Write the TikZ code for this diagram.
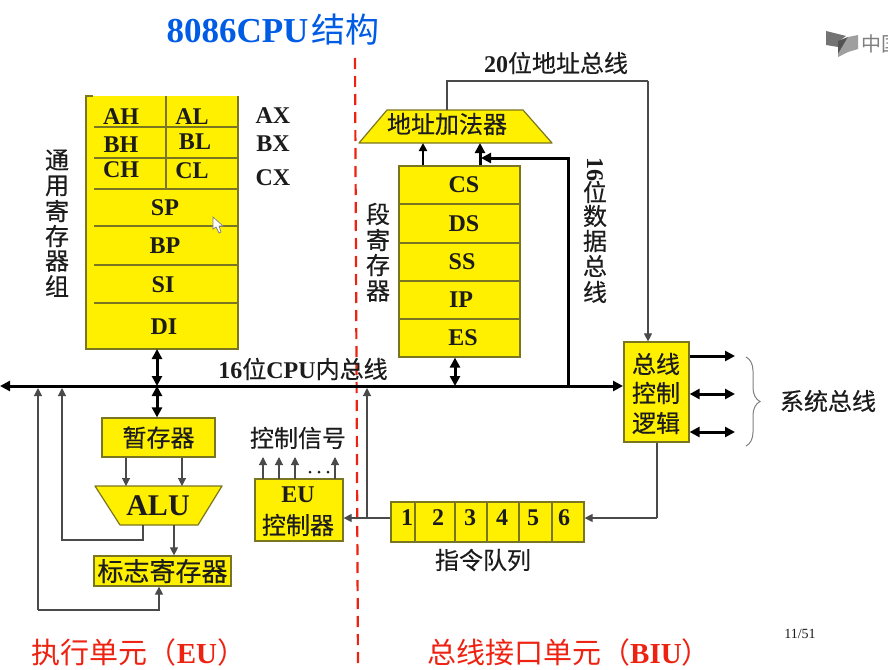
\documentclass[tikz,border=0pt]{standalone}
\usepackage{fontspec}
\setmainfont{Liberation Serif}
\newfontfamily\cjk[FakeBold=0.35]{Noto Sans CJK SC}
\newfontfamily\cjkplain{Noto Sans CJK SC}
\usetikzlibrary{arrows.meta,decorations.pathreplacing}
\newcommand\hz[1]{{\cjk #1}}
\newcommand\fsz[1]{\fontsize{#1}{#1}\selectfont}
\definecolor{ylw}{HTML}{FFF000}
\definecolor{olv}{HTML}{7A7520}
\definecolor{thin}{HTML}{4A4A4A}
\definecolor{inkk}{HTML}{1C1C1C}
\definecolor{redt}{HTML}{EE2211}
\tikzset{
  box/.style={draw=olv,line width=1.2pt,fill=ylw,inner sep=0pt,text=inkk,align=center},
  trap/.style={draw=olv,line width=1.2pt,fill=ylw,line join=round},
  cell/.style={inner sep=0pt,text=inkk,font=\fsz{24}\bfseries},
  lbl/.style={inner sep=0pt,text=inkk,font=\fsz{24},align=center},
  redlbl/.style={inner sep=0pt,text=redt,font=\fsz{29}},
  sep/.style={draw=olv,line width=1.1pt},
  thinline/.style={draw=thin,line width=1.1pt},
  thinarr/.style={thinline,-{Triangle[length=8pt,width=8pt]}},
  bus/.style={draw=black,line width=3pt},
  busarr/.style={bus,-{Triangle[length=10pt,width=10pt]}},
  busdbl/.style={bus,{Triangle[length=10pt,width=10pt]}-{Triangle[length=10pt,width=10pt]}},
}
\begin{document}
\begin{tikzpicture}[x=1pt,y=-1pt]
\useasboundingbox (0,0) rectangle (888,669);
\fill[white] (0,0) rectangle (888,669);
% title
\node[inner sep=0pt,text=blue!60!cyan!90!black,font=\fsz{35}\bfseries] (title) at (273,30) {8086CPU\hspace{3pt}{\cjkplain\fsz{34}\mdseries 结构}};
% logo
\fill[gray!90!black] (826,31) -- (846,36) -- (838,42) -- (838,47) -- (826,45) -- cycle;
\fill[gray!65!black] (838,41) -- (848,37) -- (848,50) -- (838,54) -- cycle;
\fill[gray!75] (848,37) -- (858,35) -- (858,49) -- (848,52) -- (838,57) -- (838,54) -- cycle;
\begin{scope}
\clip (860,25) rectangle (888,60);
\node[inner sep=0pt,text=gray,font=\fsz{20},anchor=west] (logo) at (861,44) {{\cjkplain 中国}};
\end{scope}
% red divider
\coordinate (divT) at (355,58);
\coordinate (divB) at (358,669);
\draw[redt,line width=2.2pt,dash pattern=on 11pt off 7pt] (divT) -- (divB);

% general registers
\fill[ylw] (86,96) rectangle (238,349);
\draw[olv,line width=1.2pt] (93,96) -- (86,96) -- (86,349) -- (238,349) -- (238,96);
\foreach \yy in {127,158,189,226,265,303} \draw[sep] (94,\yy) -- (238,\yy);
\draw[sep] (166,96) -- (166,189);
\coordinate (regS) at (157,349);
\node[cell] (ah) at (121,117) {AH};
\node[cell] (al) at (192,117) {AL};
\node[cell] (bh) at (121,145) {BH};
\node[cell] (bl) at (195,142) {BL};
\node[cell] (ch) at (121,170) {CH};
\node[cell] (cl) at (192,171) {CL};
\node[cell] (sp) at (165,208) {SP};
\node[cell] (bp) at (165,246) {BP};
\node[cell] (si) at (163,285) {SI};
\node[cell] (di) at (164,327) {DI};
\node[cell] (ax) at (273,116) {AX};
\node[cell] (bx) at (273,144) {BX};
\node[cell] (cx) at (273,178) {CX};
\foreach \c/\yy in {通/160,用/186,寄/211,存/236,器/261,组/286}
  \node[lbl] at (57,\yy) {\hz{\c}};
% mouse cursor
\draw[gray,fill=white,line width=.7pt] (213,217) -- (213,229) -- (216,227) -- (219,233) -- (221,232) -- (219,226) -- (223,226) -- cycle;

% segment registers
\node[box,minimum width=121pt,minimum height=191pt] (seg) at (459.5,261.5) {};
\foreach \yy in {204,243,281,319} \draw[sep] (399,\yy) -- (520,\yy);
\node[cell] (cs) at (464,185) {CS};
\node[cell] (ds) at (464,224) {DS};
\node[cell] (ss) at (462,262) {SS};
\node[cell] (ip) at (461,300) {IP};
\node[cell] (es) at (463,338) {ES};
\foreach \c/\yy in {段/214,寄/240,存/265,器/291}
  \node[lbl] at (378,\yy) {\hz{\c}};

% address adder
\filldraw[trap] (359,143) -- (387,110) -- (523,110) -- (552,143) -- cycle;
\node[lbl] (addT) at (447,124) {\hz{地址加法器}};
\coordinate (addA) at (447,110);
\coordinate (addB) at (423,143);
\coordinate (addC) at (480,143);
\node[lbl] (l20) at (556,63) {\textbf{20}\hz{位地址总线}};

% bus control
\node[box,minimum width=65pt,minimum height=100pt] (bc) at (656.5,392) {};
\node[lbl] (bc1) at (656,364) {\hz{总线}};
\node[lbl] (bc2) at (656,393) {\hz{控制}};
\node[lbl] (bc3) at (656,423) {\hz{逻辑}};
% internal bus
\coordinate (busL) at (0,386);
\coordinate (busM) at (300,386);
\coordinate (busR) at (623,386);
\draw[busarr] (busM) -- (busL);
\draw[busarr] (busM) -- (busR);
\node[lbl] (lbus) at (303,369) {\textbf{16}\hz{位}\textbf{CPU}\hz{内总线}};

% temp reg and ALU
\node[box,minimum width=113pt,minimum height=39pt,font=\fsz{24}] (tmp) at (158.5,437.5) {\hz{暂存器}};
\filldraw[trap] (95,486) -- (222,486) -- (198,525) -- (120,525) -- cycle;
\node[inner sep=0pt,text=inkk,font=\fsz{30}\bfseries] (aluT) at (158,506) {ALU};
\coordinate (aluA) at (126,486);
\coordinate (aluB) at (182,486);
\coordinate (aluC) at (143,525);
\coordinate (aluD) at (174,525);
\node[box,minimum width=137pt,minimum height=30pt,font=\fsz{26}] (flag) at (162.5,571) {\hz{标志寄存器}};

% EU controller
\node[box,minimum width=88pt,minimum height=62pt] (eu) at (299,510) {};
\node[cell] (euA) at (298,495) {EU};
\node[lbl] (euB) at (298,525) {\hz{控制器}};
\node[lbl] (ctl) at (298,438) {\hz{控制信号}};
\foreach \xx in {263,279,295,335}
  \draw[thinarr] (\xx,479) -- (\xx,457);
\foreach \xx in {310,319,328}
  \fill[inkk] (\xx,472) circle (1.5pt);

% queue
\node[box,minimum width=193pt,minimum height=40pt] (que) at (487.5,522) {};
\foreach \xx in {415,455,487,519,552} \draw[sep] (\xx,502) -- (\xx,542);
\foreach \n/\xx in {1/407,2/438,3/470,4/502,5/533,6/564}
  \node[cell] (q\n) at (\xx,518) {\n};
\node[lbl] (lq) at (483,560) {\hz{指令队列}};

% system bus
\node[lbl] (sysb) at (828,401) {\hz{系统总线}};
\coordinate (brT) at (746,357);
\coordinate (brB) at (746,446);
\draw[gray,line width=1pt,decorate,decoration={brace,amplitude=14pt}] (brT) -- (brB);
\coordinate (sysA) at (735,356);
\coordinate (sysB) at (735,394);
\coordinate (sysC) at (735,432);
\draw[busarr] (bc.east |- sysA) -- (sysA);
\draw[busdbl] (bc.east |- sysB) -- (sysB);
\draw[busdbl] (bc.east |- sysC) -- (sysC);

% vertical data bus label
\node[inner sep=0pt,text=inkk,font=\fsz{24}\bfseries,rotate=-90] (l16) at (595,169) {16};
\foreach \c/\yy in {位/192,数/216,据/241,总/266,线/292}
  \node[lbl] at (595,\yy) {\hz{\c}};

% connectors: address
\coordinate (a1) at (447,81);
\coordinate (a2) at (648,81);
\draw[thinline] (addA) -- (a1) -- (a2);
\draw[thinarr] (a2) -- (a2 |- bc.north);
% connectors: segment <-> adder
\draw[line width=2pt,-{Triangle[length=8pt,width=8pt]}] (addB |- seg.north) -- (addB);
\draw[bus,-{Triangle[length=10pt,width=10pt]}] (addC |- seg.north) -- (addC);
\coordinate (d1) at (568,386);
\coordinate (d2) at (568,158);
\coordinate (d3) at (481,158);
\draw[bus,line join=miter,-{Triangle[length=10pt,width=10pt]}] (d1) -- (d2) -- (d3);
\coordinate (esJ) at (455,386);
\draw[busdbl] (esJ |- seg.south) -- (esJ);
% connectors: general regs
\coordinate (rJ) at (157,386);
\draw[busdbl] (regS) -- (rJ);
\draw[busdbl] (rJ) -- (rJ |- tmp.north);
% connectors: ALU
\draw[thinarr] (aluA |- tmp.south) -- (aluA);
\draw[thinarr] (aluB |- tmp.south) -- (aluB);
\coordinate (b1) at (62,388);
\coordinate (b2) at (62,540);
\coordinate (b3) at (143,540);
\draw[thinarr] (aluC) -- (b3) -- (b2) -- (b1);
\draw[thinarr] (aluD) -- (aluD |- flag.north);
\coordinate (f1) at (38,388);
\coordinate (f2) at (38,610);
\coordinate (f3) at (159,610);
\draw[thinarr] (f1 |- f3) -- (f3) -- (f3 |- flag.south);
\draw[thinarr] (f2) -- (f1);
% connectors: queue
\coordinate (c1) at (657,518);
\draw[thinline] (bc.south -| c1) -- (c1);
\draw[thinarr] (c1) -- (que.east |- c1);
\draw[thinarr] (que.west |- c1) -- (eu.east |- c1);
\coordinate (c2) at (367,518);
\coordinate (c3) at (367,388);
\draw[thinarr] (c2) -- (c3);

% footer
\node[redlbl] (eul) at (139,652) {{\cjkplain 执行单元（}\textbf{EU}{\cjkplain ）}};
\node[redlbl] (biu) at (569,652) {{\cjkplain 总线接口单元（}\textbf{BIU}{\cjkplain ）}};
\node[inner sep=0pt,text=inkk,font=\fsz{14}] (pg) at (800,634) {11/51};
\end{tikzpicture}
\end{document}
